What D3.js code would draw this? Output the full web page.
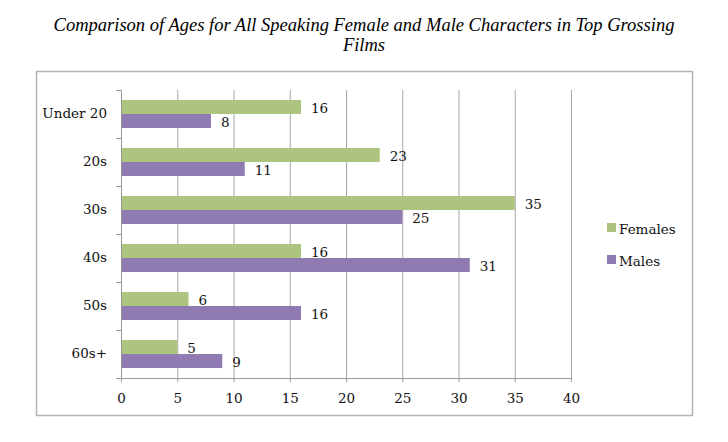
<!DOCTYPE html>
<html><head><meta charset="utf-8">
<script src="https://cdn.jsdelivr.net/npm/d3@7"></script>
<style>body{margin:0;background:#fff}svg{display:block}</style>
</head><body>
<script>
const categories = ["Under 20","20s","30s","40s","50s","60s+"];
const females = [16,23,35,16,6,5];
const males = [8,11,25,31,16,9];
const seriesNames = ["Females","Males"];
const xTicks = [0,5,10,15,20,25,30,35,40];
const colors = ["#adc47e","#8f7bb2"];

const W = 728, H = 442;
const svg = d3.select("body").append("svg").attr("width",W).attr("height",H);
const serif = "'DejaVu Serif', serif";

// title
svg.append("text").attr("x",364).attr("y",31).attr("text-anchor","middle")
  .attr("font-family","'Liberation Serif', serif").attr("font-style","italic").attr("font-size",18.5)
  .text("Comparison of Ages for All Speaking Female and Male Characters in Top Grossing");
svg.append("text").attr("x",364).attr("y",51).attr("text-anchor","middle")
  .attr("font-family","'Liberation Serif', serif").attr("font-style","italic").attr("font-size",18.5)
  .text("Films");

// frame
svg.append("rect").attr("x",36.5).attr("y",71.5).attr("width",656).attr("height",344)
  .attr("fill","none").attr("stroke","#b3b3b3").attr("stroke-width",1.5);

const x = d3.scaleLinear().domain([0,40]).range([121,571]);
const y = d3.scaleBand().domain(categories).range([90,378]).paddingInner(0.417).paddingOuter(0.208);
const yb = d3.scaleBand().domain(categories).range([90,378]);

// gridlines
svg.append("g").selectAll("line").data(xTicks.slice(1)).join("line")
  .attr("x1",d=>x(d)+0.5).attr("x2",d=>x(d)+0.5).attr("y1",90).attr("y2",378)
  .attr("stroke","#a6a6a6").attr("stroke-width",1);

// x axis
const xa = svg.append("g").attr("transform","translate(0,378)")
  .call(d3.axisBottom(x).tickValues(xTicks).tickSize(4).tickPadding(11).tickSizeOuter(0));
xa.select(".domain").attr("stroke","#999");
xa.selectAll(".tick line").attr("stroke","#999");
xa.selectAll("text").attr("font-family",serif).attr("font-size",13.5).attr("fill","#111");

// y axis
const ya = svg.append("g").attr("transform","translate(121,0)")
  .call(d3.axisLeft(yb).tickSize(0).tickPadding(14));
ya.select(".domain").attr("stroke","#999");
ya.selectAll("text").attr("font-family",serif).attr("font-size",13.5).attr("fill","#111");
svg.append("g").selectAll("line").data(d3.range(categories.length+1)).join("line")
  .attr("x1",116).attr("x2",121).attr("y1",i=>90+i*yb.step()+0.5).attr("y2",i=>90+i*yb.step()+0.5)
  .attr("stroke","#999");
svg.append("line").attr("x1",121.5).attr("x2",121.5).attr("y1",90).attr("y2",378).attr("stroke","#999");

const sub = d3.scaleBand().domain([0,1]).range([0,y.bandwidth()]);
const data = categories.map((c,i)=>({c, vals:[females[i],males[i]]}));
const g = svg.append("g").selectAll("g").data(data).join("g")
  .attr("transform",d=>`translate(0,${y(d.c)})`);
g.selectAll("rect").data(d=>d.vals).join("rect")
  .attr("x",x(0)+1).attr("y",(v,j)=>sub(j)).attr("height",sub.bandwidth())
  .attr("width",v=>x(v)-x(0)-1).attr("fill",(v,j)=>colors[j]);
g.selectAll("text").data(d=>d.vals).join("text")
  .attr("x",v=>x(v)+10).attr("y",(v,j)=>sub(j)+sub.bandwidth()/2+1)
  .attr("dy","0.35em").attr("font-family",serif).attr("font-size",13.5).attr("fill","#111")
  .text(v=>v);

// legend
const lg = svg.append("g").selectAll("g").data(seriesNames).join("g")
  .attr("transform",(d,i)=>`translate(607,${223+i*32})`);
lg.append("rect").attr("width",9).attr("height",9).attr("fill",(d,i)=>colors[i]);
lg.append("text").attr("x",12).attr("y",10.5).attr("font-family",serif).attr("font-size",13.5)
  .attr("fill","#111").text(d=>d);
</script>
</body></html>
